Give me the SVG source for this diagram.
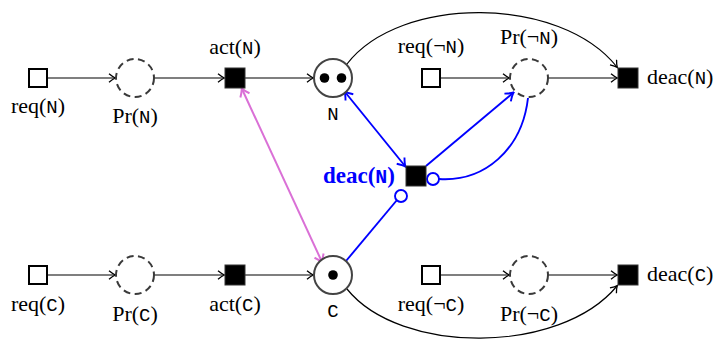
<svg xmlns="http://www.w3.org/2000/svg" width="720" height="342" viewBox="0 0 720 342">
<style>
.sq{fill:#fff;stroke:#000;stroke-width:2}
.tr{fill:#000;stroke:#333;stroke-width:1}
.pl{fill:#fff;stroke:#444;stroke-width:2}
.pr{fill:none;stroke:#3a3a3a;stroke-width:2;stroke-dasharray:7,4.5}
.e{fill:none;stroke:#000;stroke-width:1.2}
.b{fill:none;stroke:#0000ff;stroke-width:1.9}
.pk{fill:none;stroke:#da70d6;stroke-width:2}
</style>
<defs>
<marker id="ak" viewBox="-7 -5 9 10" markerWidth="9" markerHeight="10" refX="0" refY="0" orient="auto" markerUnits="userSpaceOnUse">
<path d="M-6,-4.2 Q-2,-0.9 0.5,0 Q-2,0.9 -6,4.2" fill="none" stroke="#000" stroke-width="1.3"/>
</marker>
<marker id="ab" viewBox="-8 -6 10 12" markerWidth="10" markerHeight="12" refX="0" refY="0" orient="auto-start-reverse" markerUnits="userSpaceOnUse">
<path d="M-7,-5 Q-2,-1 0.8,0 Q-2,1 -7,5" fill="none" stroke="#0000ff" stroke-width="1.9"/>
</marker>
<marker id="ap" viewBox="-8 -6 10 12" markerWidth="10" markerHeight="12" refX="0" refY="0" orient="auto-start-reverse" markerUnits="userSpaceOnUse">
<path d="M-7,-5 Q-2,-1 0.8,0 Q-2,1 -7,5" fill="none" stroke="#da70d6" stroke-width="2"/>
</marker>
</defs>

<g id="connectors">
<line class="e" x1="47" y1="78" x2="115" y2="78" marker-end="url(#ak)"/>
<line class="e" x1="154" y1="78" x2="224" y2="78" marker-end="url(#ak)"/>
<line class="e" x1="245" y1="78" x2="313" y2="78" marker-end="url(#ak)"/>
<line class="e" x1="441" y1="78" x2="509" y2="78" marker-end="url(#ak)"/>
<line class="e" x1="548" y1="78" x2="617" y2="78" marker-end="url(#ak)"/>
<path class="e" d="M347,64 C400,-5 560,-5 617,67" marker-end="url(#ak)"/>
<line class="e" x1="47" y1="275" x2="115" y2="275" marker-end="url(#ak)"/>
<line class="e" x1="154" y1="275" x2="224" y2="275" marker-end="url(#ak)"/>
<line class="e" x1="245" y1="275" x2="313" y2="275" marker-end="url(#ak)"/>
<line class="e" x1="441" y1="275" x2="509" y2="275" marker-end="url(#ak)"/>
<line class="e" x1="548" y1="275" x2="617" y2="275" marker-end="url(#ak)"/>
<path class="e" d="M347,289 C400,355 560,355 617,286" marker-end="url(#ak)"/>
<line class="pk" x1="242" y1="89" x2="322" y2="262" marker-start="url(#ap)" marker-end="url(#ap)"/>
<line class="b" x1="345" y1="92" x2="405" y2="166" marker-start="url(#ab)" marker-end="url(#ab)"/>
<line class="b" x1="426" y1="166" x2="513" y2="93" marker-end="url(#ab)"/>
<path class="b" d="M528,98 C522,150 484,182 439,179"/>
<line class="b" x1="346" y1="261" x2="397" y2="200"/>
<circle cx="433" cy="179" r="6" fill="#fff" stroke="#0000ff" stroke-width="1.9"/>
<circle cx="401" cy="196" r="6" fill="#fff" stroke="#0000ff" stroke-width="1.9"/>
</g>

<g font-family="'Liberation Serif', 'DejaVu Serif', serif" font-size="22" text-anchor="middle" fill="#000">
<g id="reqN"><rect class="sq" x="29" y="69" width="18" height="18"/><text x="38" y="113">req(<tspan font-family="'Liberation Mono', monospace" font-size="19">N</tspan>)</text></g>
<g id="PrN"><circle class="pr" cx="135" cy="78" r="19"/><text x="135" y="123">Pr(<tspan font-family="'Liberation Mono', monospace" font-size="19">N</tspan>)</text></g>
<g id="actN"><rect class="tr" x="225" y="68" width="20" height="20"/><text x="235" y="54">act(<tspan font-family="'Liberation Mono', monospace" font-size="19">N</tspan>)</text></g>
<g id="N"><circle class="pl" cx="333" cy="78" r="19"/><circle cx="324.5" cy="78" r="4.8"/><circle cx="341.5" cy="78" r="4.8"/><text x="333" y="120" font-family="'Liberation Mono', monospace" font-size="19">N</text></g>
<g id="reqNotN"><rect class="sq" x="422" y="69" width="18" height="18"/><text x="431" y="53">req(¬<tspan font-family="'Liberation Mono', monospace" font-size="19">N</tspan>)</text></g>
<g id="PrNotN"><circle class="pr" cx="529" cy="78" r="19"/><text x="529" y="44">Pr(¬<tspan font-family="'Liberation Mono', monospace" font-size="19">N</tspan>)</text></g>
<g id="deacNtop"><rect class="tr" x="618" y="68" width="20" height="20"/><text x="647" y="84" text-anchor="start">deac(<tspan font-family="'Liberation Mono', monospace" font-size="19">N</tspan>)</text></g>
<g id="deacNmid"><rect class="tr" x="406" y="166" width="20" height="20"/><text x="395" y="183" text-anchor="end" fill="#0000ff" font-weight="bold" font-size="23">deac(<tspan font-family="'Liberation Mono', monospace" font-size="20">N</tspan>)</text></g>
<g id="reqC"><rect class="sq" x="29" y="266" width="18" height="18"/><text x="38" y="311">req(<tspan font-family="'Liberation Mono', monospace" font-size="19">C</tspan>)</text></g>
<g id="PrC"><circle class="pr" cx="135" cy="275" r="19"/><text x="135" y="321">Pr(<tspan font-family="'Liberation Mono', monospace" font-size="19">C</tspan>)</text></g>
<g id="actC"><rect class="tr" x="225" y="265" width="20" height="20"/><text x="235" y="311">act(<tspan font-family="'Liberation Mono', monospace" font-size="19">C</tspan>)</text></g>
<g id="C"><circle class="pl" cx="333" cy="275" r="19"/><circle cx="333" cy="275" r="4.8"/><text x="333" y="317" font-family="'Liberation Mono', monospace" font-size="19">C</text></g>
<g id="reqNotC"><rect class="sq" x="422" y="266" width="18" height="18"/><text x="431" y="311">req(¬<tspan font-family="'Liberation Mono', monospace" font-size="19">C</tspan>)</text></g>
<g id="PrNotC"><circle class="pr" cx="529" cy="275" r="19"/><text x="529" y="321">Pr(¬<tspan font-family="'Liberation Mono', monospace" font-size="19">C</tspan>)</text></g>
<g id="deacC"><rect class="tr" x="618" y="265" width="20" height="20"/><text x="647" y="281" text-anchor="start">deac(<tspan font-family="'Liberation Mono', monospace" font-size="19">C</tspan>)</text></g>
</g>
</svg>
